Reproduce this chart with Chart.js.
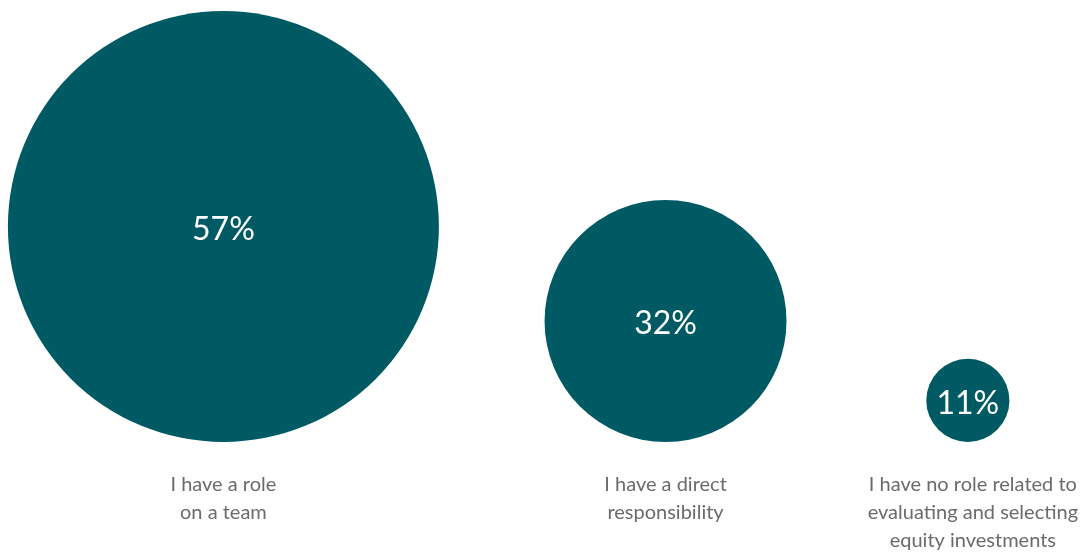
<!DOCTYPE html>
<html>
<head>
<meta charset="utf-8">
<script src="https://cdn.jsdelivr.net/npm/chart.js@4/dist/chart.umd.min.js"></script>
<style>
  html, body { margin: 0; padding: 0; background: #fff; }
</style>
</head>
<body>
<canvas id="bubbleChart" width="1085" height="553"></canvas>
<script>
// data
const categories = [
    ['I have a role', 'on a team'],
    ['I have a direct', 'responsibility'],
    ['I have no role related to', 'evaluating and selecting', 'equity investments']
];
const values = [57, 32, 11];

// spacing between the circles, in value units
const gaps = [28, 37];

// circles sit on a common baseline, packed left to right
const centers = [];
let edge = 0;
values.forEach((v, i) => {
    if (i > 0) edge += gaps[i - 1];
    centers.push(edge + v);
    edge += 2 * v;
});

const points = values.map((v, i) => ({ x: centers[i], y: v, v: v }));

const labelPlugin = {
    id: 'bubbleLabels',
    afterDatasetsDraw(chart) {
        const ctx = chart.ctx;
        const meta = chart.getDatasetMeta(0);
        const base = chart.scales.y.getPixelForValue(0);
        ctx.save();
        ctx.textAlign = 'center';
        ctx.textBaseline = 'middle';
        meta.data.forEach((el, i) => {
            ctx.fillStyle = '#ffffff';
            ctx.font = '32px Lato';
            ctx.fillText(values[i] + '%', el.x, el.y + 3);

            ctx.fillStyle = '#6b6b6b';
            ctx.font = '20px Lato';
            const xOff = i === 2 ? 5 : 0;
            categories[i].forEach((line, j) => {
                ctx.fillText(line, el.x + xOff, base + 43 + j * 28);
            });
        });
        ctx.restore();
    }
};

const ctx = document.getElementById('bubbleChart').getContext('2d');
const chart = new Chart(ctx, {
    type: 'bubble',
    data: {
        datasets: [{
            data: points,
            backgroundColor: '#005a64',
            borderWidth: 0,
            hoverRadius: 0,
            clip: false
        }]
    },
    options: {
        responsive: false,
        animation: false,
        layout: {
            autoPadding: false,
            padding: { left: 8, right: 0, top: 11, bottom: 111 }
        },
        scales: {
            x: { type: 'linear', min: 0, max: 285, display: false },
            y: { type: 'linear', min: 0, max: 114, display: false }
        },
        plugins: {
            legend: { display: false },
            tooltip: { enabled: false }
        }
    },
    plugins: [labelPlugin]
});

// radius in pixels follows the y scale, so each circle rests on y = 0
const yScale = chart.scales.y;
chart.data.datasets[0].data.forEach(p => {
    p.r = yScale.getPixelForValue(0) - yScale.getPixelForValue(p.v);
});
chart.update();
</script>
</body>
</html>
